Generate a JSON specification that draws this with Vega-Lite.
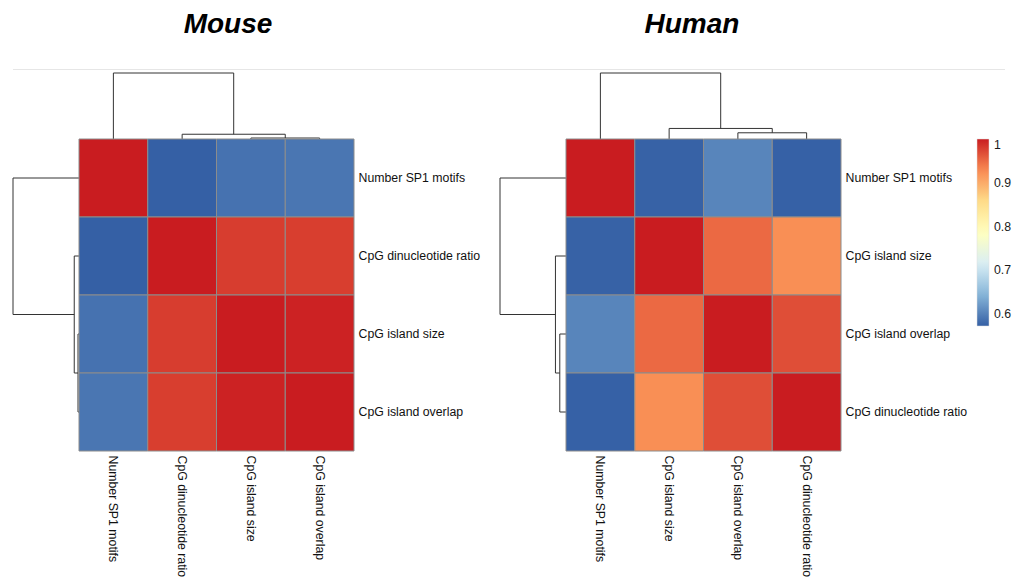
{
  "$schema": "https://vega.github.io/schema/vega-lite/v6.json",
  "background": "white",
  "padding": {"left": 12, "top": 0, "right": 0, "bottom": 0},
  "config": {
    "view": {"stroke": null},
    "font": "Liberation Sans"
  },
  "datasets": {
    "titles": [{"species": "Mouse"}, {"species": "Human"}],
    "mouseCells": [
      {"row": "Number SP1 motifs", "col": "Number SP1 motifs", "r": 1.0},
      {"row": "Number SP1 motifs", "col": "CpG dinucleotide ratio", "r": 0.573},
      {"row": "Number SP1 motifs", "col": "CpG island size", "r": 0.588},
      {"row": "Number SP1 motifs", "col": "CpG island overlap", "r": 0.591},
      {"row": "CpG dinucleotide ratio", "col": "Number SP1 motifs", "r": 0.573},
      {"row": "CpG dinucleotide ratio", "col": "CpG dinucleotide ratio", "r": 1.0},
      {"row": "CpG dinucleotide ratio", "col": "CpG island size", "r": 0.979},
      {"row": "CpG dinucleotide ratio", "col": "CpG island overlap", "r": 0.978},
      {"row": "CpG island size", "col": "Number SP1 motifs", "r": 0.588},
      {"row": "CpG island size", "col": "CpG dinucleotide ratio", "r": 0.979},
      {"row": "CpG island size", "col": "CpG island size", "r": 1.0},
      {"row": "CpG island size", "col": "CpG island overlap", "r": 0.996},
      {"row": "CpG island overlap", "col": "Number SP1 motifs", "r": 0.591},
      {"row": "CpG island overlap", "col": "CpG dinucleotide ratio", "r": 0.978},
      {"row": "CpG island overlap", "col": "CpG island size", "r": 0.996},
      {"row": "CpG island overlap", "col": "CpG island overlap", "r": 1.0}
    ],
    "humanCells": [
      {"row": "Number SP1 motifs", "col": "Number SP1 motifs", "r": 1.0},
      {"row": "Number SP1 motifs", "col": "CpG island size", "r": 0.575},
      {"row": "Number SP1 motifs", "col": "CpG island overlap", "r": 0.604},
      {"row": "Number SP1 motifs", "col": "CpG dinucleotide ratio", "r": 0.574},
      {"row": "CpG island size", "col": "Number SP1 motifs", "r": 0.575},
      {"row": "CpG island size", "col": "CpG island size", "r": 1.0},
      {"row": "CpG island size", "col": "CpG island overlap", "r": 0.95},
      {"row": "CpG island size", "col": "CpG dinucleotide ratio", "r": 0.925},
      {"row": "CpG island overlap", "col": "Number SP1 motifs", "r": 0.604},
      {"row": "CpG island overlap", "col": "CpG island size", "r": 0.95},
      {"row": "CpG island overlap", "col": "CpG island overlap", "r": 1.0},
      {"row": "CpG island overlap", "col": "CpG dinucleotide ratio", "r": 0.968},
      {"row": "CpG dinucleotide ratio", "col": "Number SP1 motifs", "r": 0.574},
      {"row": "CpG dinucleotide ratio", "col": "CpG island size", "r": 0.925},
      {"row": "CpG dinucleotide ratio", "col": "CpG island overlap", "r": 0.968},
      {"row": "CpG dinucleotide ratio", "col": "CpG dinucleotide ratio", "r": 1.0}
    ],
    "mouseTree": [
      {"pos": 2.5, "pos2": 2.5, "h": 0, "h2": 0.015},
      {"pos": 2.5, "pos2": 3.5, "h": 0.015, "h2": 0.015},
      {"pos": 3.5, "pos2": 3.5, "h": 0, "h2": 0.015},
      {"pos": 1.5, "pos2": 1.5, "h": 0, "h2": 0.072},
      {"pos": 1.5, "pos2": 3.0, "h": 0.072, "h2": 0.072},
      {"pos": 3.0, "pos2": 3.0, "h": 0.015, "h2": 0.072},
      {"pos": 0.5, "pos2": 0.5, "h": 0, "h2": 1},
      {"pos": 0.5, "pos2": 2.25, "h": 1, "h2": 1},
      {"pos": 2.25, "pos2": 2.25, "h": 0.072, "h2": 1}
    ],
    "humanTree": [
      {"pos": 2.5, "pos2": 2.5, "h": 0, "h2": 0.094},
      {"pos": 2.5, "pos2": 3.5, "h": 0.094, "h2": 0.094},
      {"pos": 3.5, "pos2": 3.5, "h": 0, "h2": 0.094},
      {"pos": 1.5, "pos2": 1.5, "h": 0, "h2": 0.16},
      {"pos": 1.5, "pos2": 3.0, "h": 0.16, "h2": 0.16},
      {"pos": 3.0, "pos2": 3.0, "h": 0.094, "h2": 0.16},
      {"pos": 0.5, "pos2": 0.5, "h": 0, "h2": 1},
      {"pos": 0.5, "pos2": 2.25, "h": 1, "h2": 1},
      {"pos": 2.25, "pos2": 2.25, "h": 0.16, "h2": 1}
    ]
  },
  "resolve": {"scale": {"color": "independent"}},
  "spacing": 2,
  "vconcat": [
    {
      "spacing": 20,
      "vconcat": [
        {
          "spacing": 0,
          "bounds": "flush",
          "hconcat": [
            {
              "width": 430, "height": 49,
              "data": {"name": "titles"},
              "transform": [{"filter": "datum.species === 'Mouse'"}],
              "mark": {"type": "text", "fontSize": 28, "fontWeight": "bold", "fontStyle": "italic", "align": "center", "baseline": "middle", "color": "black"},
              "encoding": {"text": {"field": "species"}}
            },
            {
              "width": 498, "height": 49,
              "data": {"name": "titles"},
              "transform": [{"filter": "datum.species === 'Human'"}],
              "mark": {"type": "text", "fontSize": 28, "fontWeight": "bold", "fontStyle": "italic", "align": "center", "baseline": "middle", "color": "black"},
              "encoding": {"text": {"field": "species"}}
            }
          ]
        },
        {
          "width": 992, "height": 1,
          "view": {"fill": "#e6e6e6", "stroke": null},
          "data": {"values": []},
          "mark": "point",
          "encoding": {}
        }
      ]
    },
    {
      "spacing": 19,
      "resolve": {"scale": {"color": "independent"}},
      "hconcat": [
        {
          "columns": 2,
          "spacing": 0,
          "bounds": "flush",
          "resolve": {"scale": {"color": "independent"}},
          "concat": [
            {"width": 66, "height": 66, "data": {"values": []}, "mark": "point", "encoding": {}},
            {
              "width": 275, "height": 66,
              "data": {"name": "mouseTree"},
              "mark": {"type": "rule", "color": "#333333", "strokeWidth": 1},
              "encoding": {
                "x": {"field": "pos", "type": "quantitative", "scale": {"domain": [0, 4], "nice": false, "zero": false}, "axis": null},
                "x2": {"field": "pos2"},
                "y": {"field": "h", "type": "quantitative", "scale": {"domain": [0, 1], "nice": false}, "axis": null},
                "y2": {"field": "h2"}
              }
            },
            {
              "width": 66, "height": 312,
              "data": {"name": "mouseTree"},
              "mark": {"type": "rule", "color": "#333333", "strokeWidth": 1},
              "encoding": {
                "x": {"field": "h", "type": "quantitative", "scale": {"domain": [0, 1], "nice": false, "reverse": true}, "axis": null},
                "x2": {"field": "h2"},
                "y": {"field": "pos", "type": "quantitative", "scale": {"domain": [0, 4], "nice": false, "zero": false, "reverse": true}, "axis": null},
                "y2": {"field": "pos2"}
              }
            },
            {
              "width": 275, "height": 312,
              "data": {"name": "mouseCells"},
              "mark": {"type": "rect", "stroke": "#8c8c8c", "strokeWidth": 1},
              "encoding": {
                "x": {
                  "field": "col", "type": "nominal",
                  "sort": ["Number SP1 motifs", "CpG dinucleotide ratio", "CpG island size", "CpG island overlap"],
                  "scale": {"paddingInner": 0, "paddingOuter": 0},
                  "axis": {"orient": "bottom", "title": null, "labelAngle": 90, "ticks": false, "tickSize": 0, "domain": false, "labelPadding": 4, "labelFontSize": 12.3, "labelColor": "#111111", "labelLimit": 300}
                },
                "y": {
                  "field": "row", "type": "nominal",
                  "sort": ["Number SP1 motifs", "CpG dinucleotide ratio", "CpG island size", "CpG island overlap"],
                  "scale": {"paddingInner": 0, "paddingOuter": 0},
                  "axis": {"orient": "right", "title": null, "ticks": false, "tickSize": 0, "domain": false, "labelPadding": 4, "labelFontSize": 12.3, "labelColor": "#111111", "labelLimit": 300}
                },
                "color": {
                  "field": "r", "type": "quantitative",
                  "scale": {
                    "domain": [0.573, 0.644, 0.715, 0.786, 0.857, 0.929, 1.0],
                    "range": ["#3560A5", "#86B5D8", "#D9EEF5", "#FFFFBF", "#FEDD8A", "#F98A52", "#C91C20"],
                    "interpolate": "rgb"
                  },
                  "legend": null
                }
              }
            }
          ]
        },
        {
          "columns": 2,
          "spacing": 0,
          "bounds": "flush",
          "resolve": {"scale": {"color": "independent"}},
          "concat": [
            {"width": 66, "height": 66, "data": {"values": []}, "mark": "point", "encoding": {}},
            {
              "width": 275, "height": 66,
              "data": {"name": "humanTree"},
              "mark": {"type": "rule", "color": "#333333", "strokeWidth": 1},
              "encoding": {
                "x": {"field": "pos", "type": "quantitative", "scale": {"domain": [0, 4], "nice": false, "zero": false}, "axis": null},
                "x2": {"field": "pos2"},
                "y": {"field": "h", "type": "quantitative", "scale": {"domain": [0, 1], "nice": false}, "axis": null},
                "y2": {"field": "h2"}
              }
            },
            {
              "width": 66, "height": 312,
              "data": {"name": "humanTree"},
              "mark": {"type": "rule", "color": "#333333", "strokeWidth": 1},
              "encoding": {
                "x": {"field": "h", "type": "quantitative", "scale": {"domain": [0, 1], "nice": false, "reverse": true}, "axis": null},
                "x2": {"field": "h2"},
                "y": {"field": "pos", "type": "quantitative", "scale": {"domain": [0, 4], "nice": false, "zero": false, "reverse": true}, "axis": null},
                "y2": {"field": "pos2"}
              }
            },
            {
              "width": 275, "height": 312,
              "data": {"name": "humanCells"},
              "mark": {"type": "rect", "stroke": "#8c8c8c", "strokeWidth": 1},
              "encoding": {
                "x": {
                  "field": "col", "type": "nominal",
                  "sort": ["Number SP1 motifs", "CpG island size", "CpG island overlap", "CpG dinucleotide ratio"],
                  "scale": {"paddingInner": 0, "paddingOuter": 0},
                  "axis": {"orient": "bottom", "title": null, "labelAngle": 90, "ticks": false, "tickSize": 0, "domain": false, "labelPadding": 4, "labelFontSize": 12.3, "labelColor": "#111111", "labelLimit": 300}
                },
                "y": {
                  "field": "row", "type": "nominal",
                  "sort": ["Number SP1 motifs", "CpG island size", "CpG island overlap", "CpG dinucleotide ratio"],
                  "scale": {"paddingInner": 0, "paddingOuter": 0},
                  "axis": {"orient": "right", "title": null, "ticks": false, "tickSize": 0, "domain": false, "labelPadding": 4, "labelFontSize": 12.3, "labelColor": "#111111", "labelLimit": 300}
                },
                "color": {
                  "field": "r", "type": "quantitative",
                  "scale": {
                    "domain": [0.573, 0.644, 0.715, 0.786, 0.857, 0.929, 1.0],
                    "range": ["#3560A5", "#86B5D8", "#D9EEF5", "#FFFFBF", "#FEDD8A", "#F98A52", "#C91C20"],
                    "interpolate": "rgb"
                  },
                  "legend": {
                    "orient": "right", "title": null, "offset": 10, "padding": 0,
                    "values": [0.6, 0.7, 0.8, 0.9, 1], "format": "~g",
                    "gradientLength": 187, "gradientThickness": 12,
                    "gradientStrokeColor": "#dcdcdc", "gradientStrokeWidth": 0.5,
                    "labelFontSize": 12.3, "labelOffset": 5, "labelColor": "#1a1a1a", "labelOverlap": false
                  }
                }
              }
            }
          ]
        }
      ]
    }
  ]
}
